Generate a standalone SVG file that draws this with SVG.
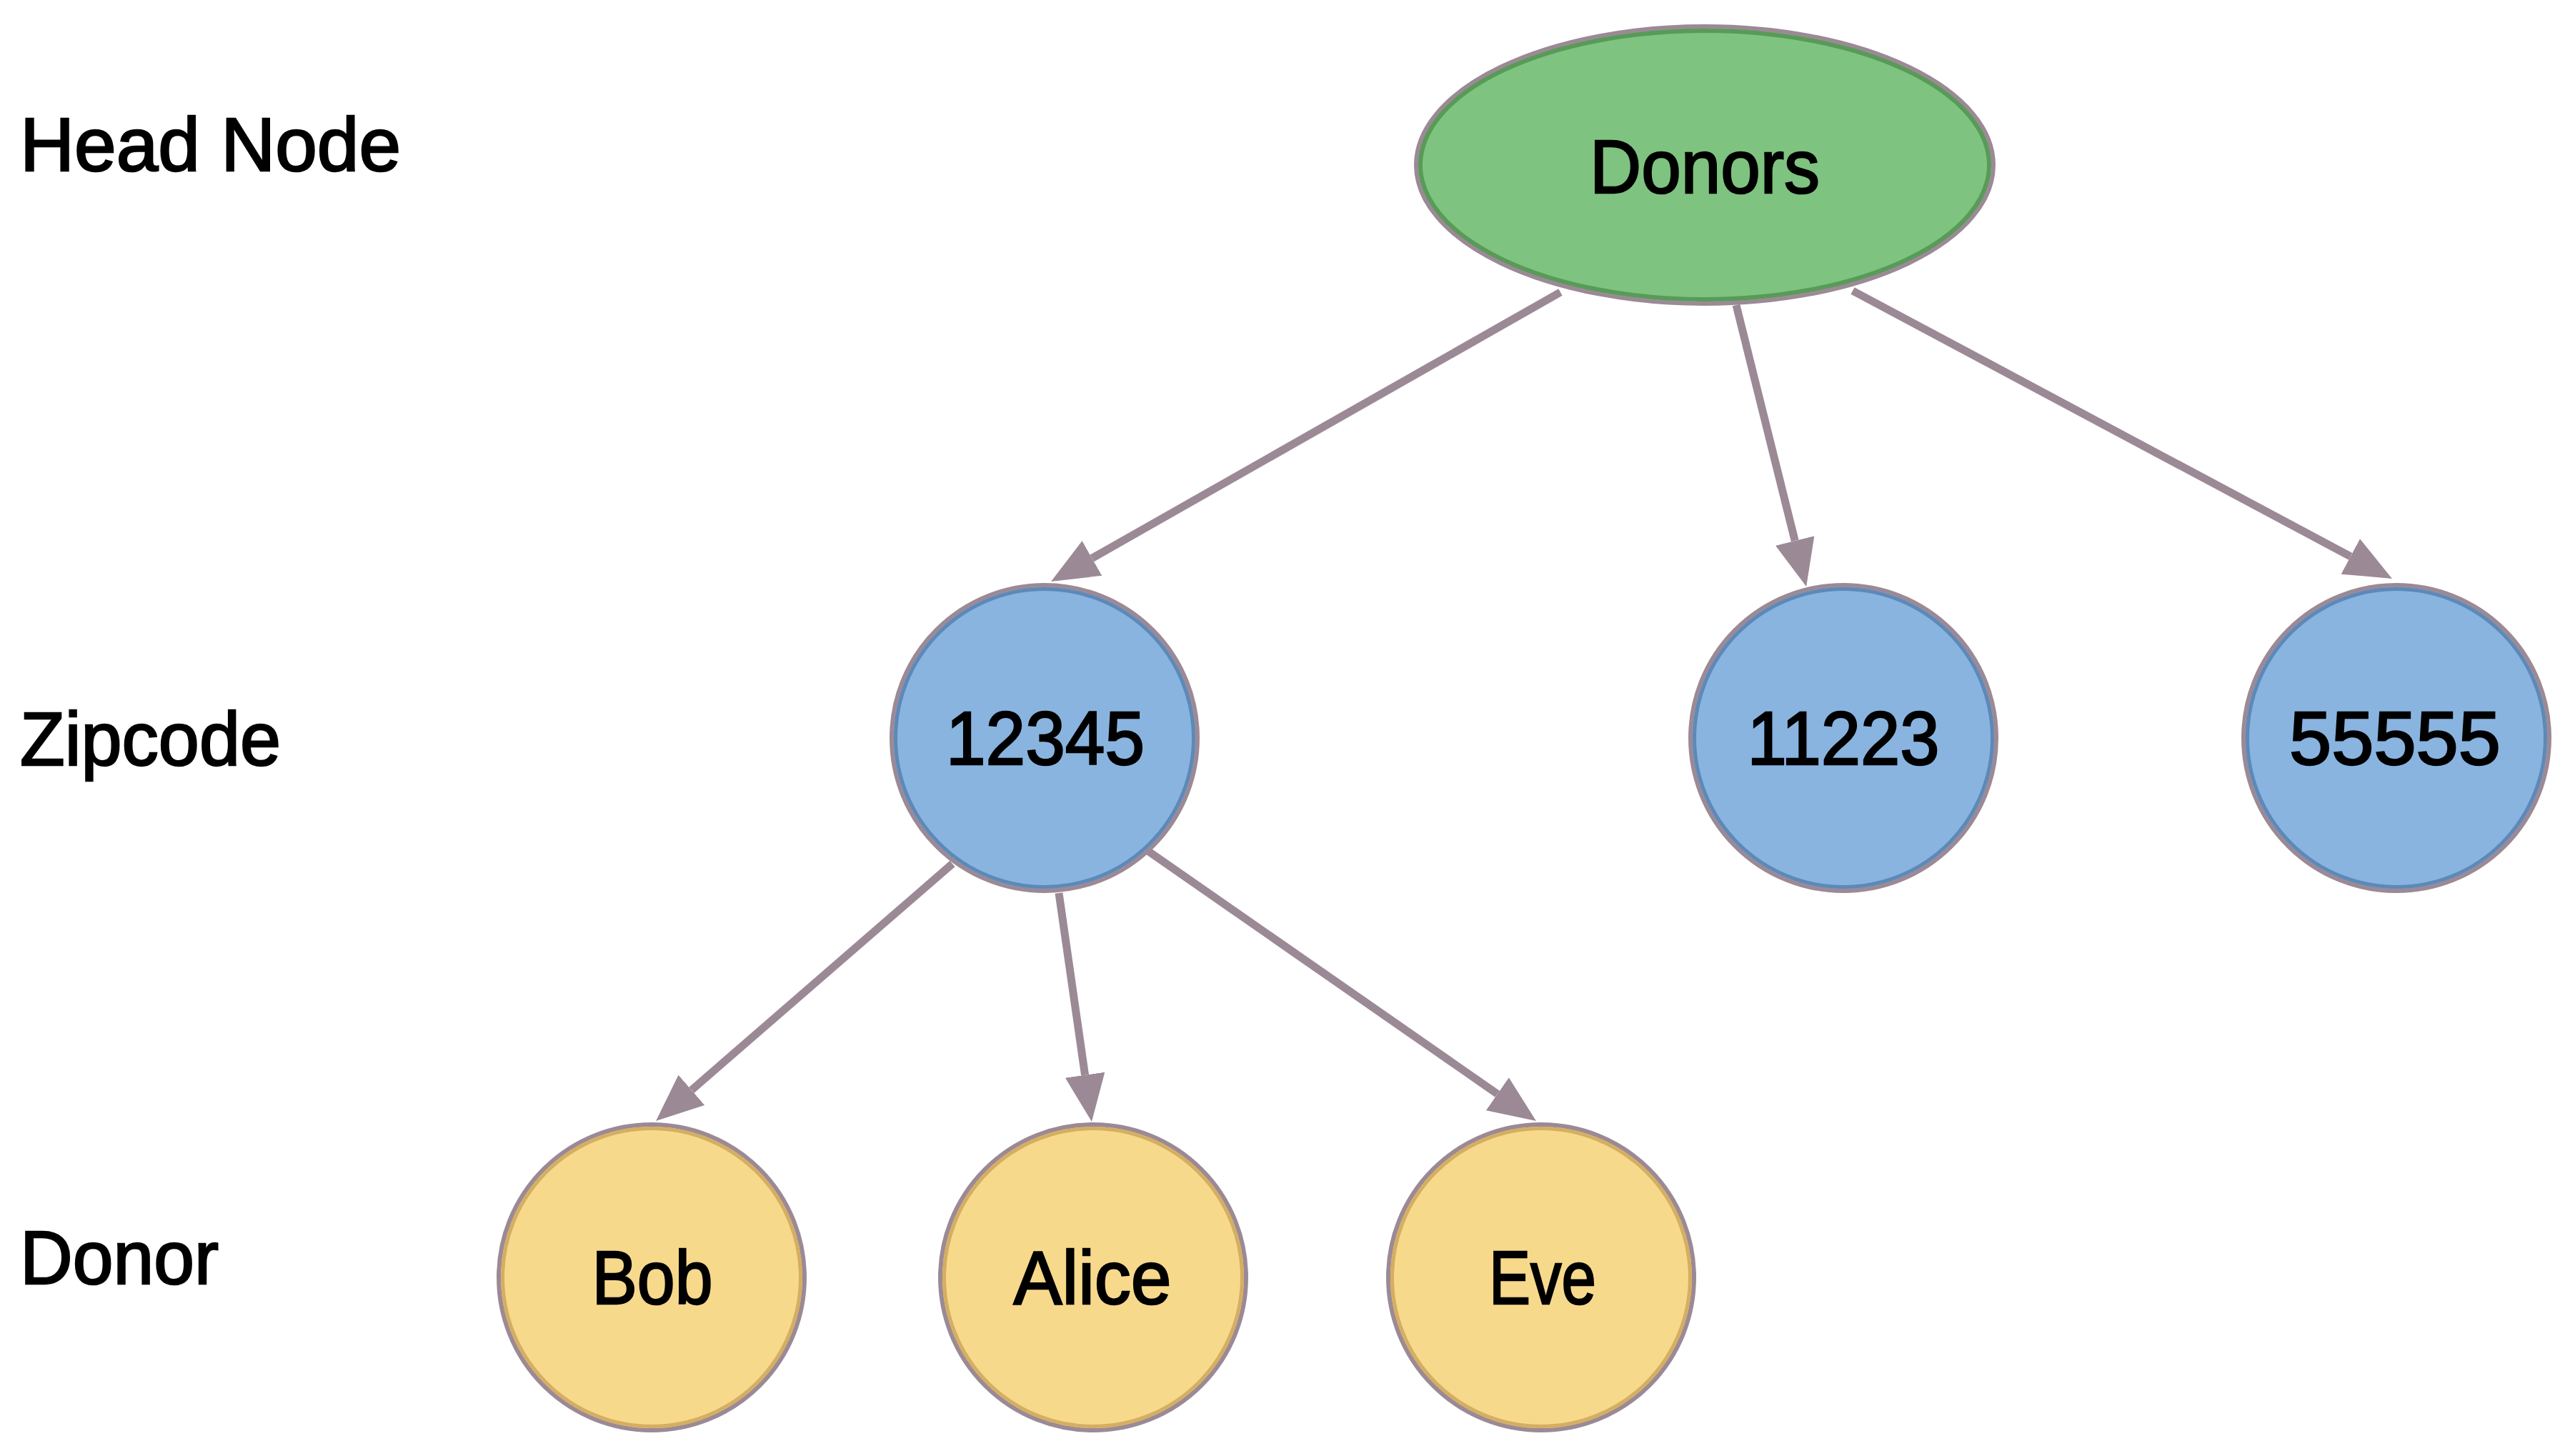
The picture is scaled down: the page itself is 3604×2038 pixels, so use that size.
<svg xmlns="http://www.w3.org/2000/svg" width="3604" height="2038" viewBox="0 0 3604 2038">
  <defs>
    <marker id="arrow" markerUnits="userSpaceOnUse" viewBox="0 0 66 56" markerWidth="66" markerHeight="56" refX="0" refY="28" orient="auto">
      <path d="M0,0 L66,28 L0,56 Z" fill="#9b8a96"/>
    </marker>
  </defs>
  <style>
    .lbl { font-family: "Liberation Sans", Arial, sans-serif; font-size: 106px; fill: #000000; stroke: #000000; stroke-width: 2.5; }
    .ctr { text-anchor: middle; }
    .outer { stroke: #9b8a96; stroke-width: 6; }
    .green { fill: #7fc381; }
    .greenRing { fill: none; stroke: #599a59; stroke-width: 6; }
    .blue { fill: #89b4e0; }
    .blueRing { fill: none; stroke: #5d89b8; stroke-width: 5; }
    .yellow { fill: #f7d98c; }
    .yellowRing { fill: none; stroke: #d4ae62; stroke-width: 5; }
    .edge { fill: none; stroke: #9b8a96; stroke-width: 11; marker-end: url(#arrow); }
  </style>
  <rect width="3604" height="2038" fill="#ffffff"/>

  <g id="level-labels">
    <text class="lbl" x="28" y="239" textLength="533" lengthAdjust="spacingAndGlyphs">Head Node</text>
    <text class="lbl" x="28" y="1071" textLength="365" lengthAdjust="spacingAndGlyphs">Zipcode</text>
    <text class="lbl" x="28" y="1797" textLength="278" lengthAdjust="spacingAndGlyphs">Donor</text>
  </g>

  <g id="node-donors">
    <ellipse cx="2386" cy="231" rx="404" ry="194" class="green outer"/>
    <ellipse cx="2386" cy="231" rx="398" ry="188" class="greenRing"/>
    <text class="lbl ctr" x="2386" y="270" textLength="322" lengthAdjust="spacingAndGlyphs">Donors</text>
  </g>

  <g id="node-12345">
    <circle cx="1462" cy="1033" r="214" class="blue outer"/>
    <circle cx="1462" cy="1033" r="208.5" class="blueRing"/>
    <text class="lbl ctr" x="1463" y="1070" textLength="278" lengthAdjust="spacingAndGlyphs">12345</text>
  </g>

  <g id="node-11223">
    <circle cx="2580" cy="1033" r="214" class="blue outer"/>
    <circle cx="2580" cy="1033" r="208.5" class="blueRing"/>
    <text class="lbl ctr" x="2580" y="1070" textLength="269" lengthAdjust="spacingAndGlyphs">11223</text>
  </g>

  <g id="node-55555">
    <circle cx="3354" cy="1033" r="214" class="blue outer"/>
    <circle cx="3354" cy="1033" r="208.5" class="blueRing"/>
    <text class="lbl ctr" x="3352" y="1070" textLength="296" lengthAdjust="spacingAndGlyphs">55555</text>
  </g>

  <g id="node-bob">
    <circle cx="912" cy="1788" r="214" class="yellow outer"/>
    <circle cx="912" cy="1788" r="208.5" class="yellowRing"/>
    <text class="lbl ctr" x="913" y="1825" textLength="169" lengthAdjust="spacingAndGlyphs">Bob</text>
  </g>

  <g id="node-alice">
    <circle cx="1530" cy="1788" r="214" class="yellow outer"/>
    <circle cx="1530" cy="1788" r="208.5" class="yellowRing"/>
    <text class="lbl ctr" x="1529" y="1825" textLength="221" lengthAdjust="spacingAndGlyphs">Alice</text>
  </g>

  <g id="node-eve">
    <circle cx="2157" cy="1788" r="214" class="yellow outer"/>
    <circle cx="2157" cy="1788" r="208.5" class="yellowRing"/>
    <text class="lbl ctr" x="2159" y="1825" textLength="150" lengthAdjust="spacingAndGlyphs">Eve</text>
  </g>

  <g id="connectors">
    <line class="edge" x1="2184" y1="409" x2="1528.4" y2="781.4"/>
    <line class="edge" x1="2430" y1="427" x2="2512.2" y2="756.9"/>
    <line class="edge" x1="2593" y1="407" x2="3289.8" y2="778.9"/>
    <line class="edge" x1="1333" y1="1209" x2="967.9" y2="1525.8"/>
    <line class="edge" x1="1482" y1="1250" x2="1518.6" y2="1504.7"/>
    <line class="edge" x1="1608" y1="1192" x2="2095.8" y2="1531.3"/>
  </g>
</svg>
